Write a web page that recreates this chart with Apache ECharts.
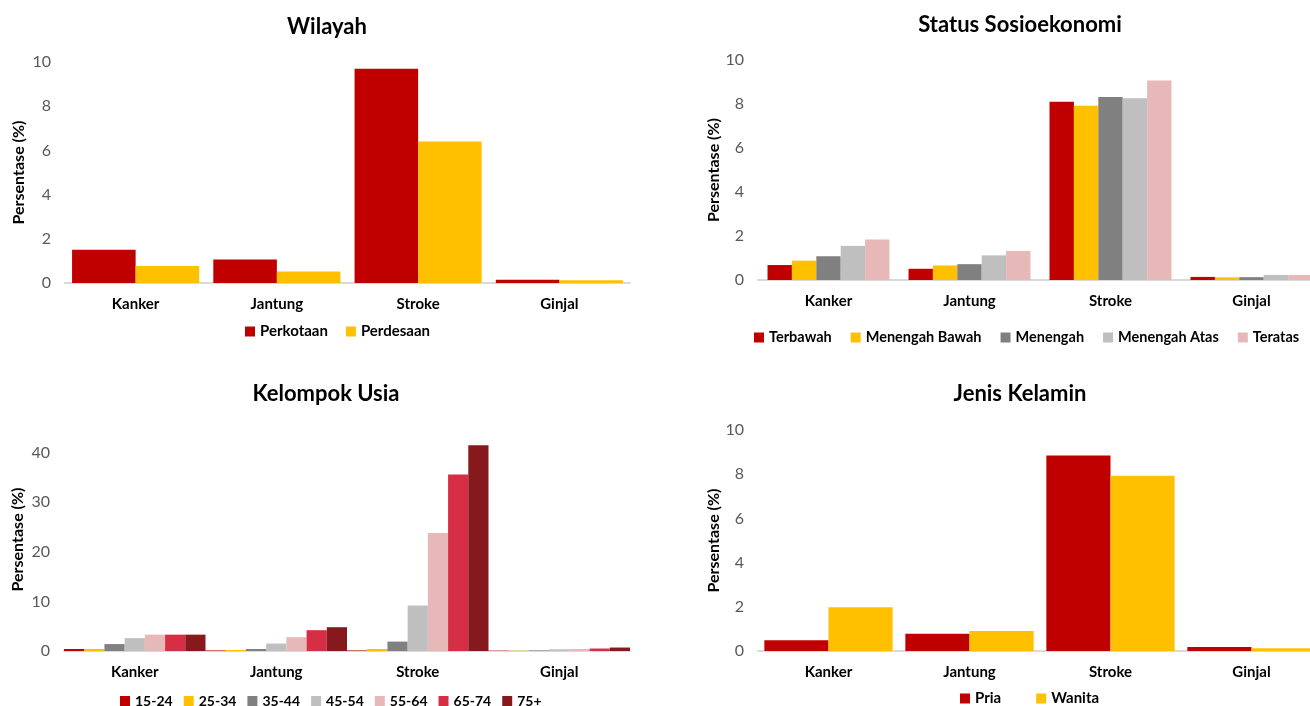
<!DOCTYPE html>
<html>
<head>
<meta charset="utf-8">
<title>Persentase penyakit katastropik</title>
<script src="https://cdn.jsdelivr.net/npm/echarts@6/dist/echarts.min.js"></script>
<style>
  html, body { margin: 0; padding: 0; background: #fff; overflow: hidden; }
  #chart { width: 1340px; height: 706px; }
</style>
</head>
<body>
<div id="chart"></div>
<script>
// Categories shared by all four panels
const categories = ['Kanker', 'Jantung', 'Stroke', 'Ginjal'];

// Wilayah
const perkotaan = [1.5, 1.06, 9.7, 0.15];
const perdesaan = [0.77, 0.52, 6.4, 0.12];

// Status sosioekonomi
const terbawah = [0.68, 0.51, 8.1, 0.14];
const menengahBawah = [0.88, 0.66, 7.92, 0.12];
const menengah = [1.08, 0.72, 8.32, 0.13];
const menengahAtas = [1.55, 1.12, 8.26, 0.23];
const teratas = [1.84, 1.32, 9.07, 0.23];

// Kelompok usia
const usia1524 = [0.4, 0.1, 0.1, 0.05];
const usia2534 = [0.4, 0.2, 0.4, 0.05];
const usia3544 = [1.4, 0.4, 1.9, 0.1];
const usia4554 = [2.6, 1.5, 9.2, 0.35];
const usia5564 = [3.3, 2.8, 23.8, 0.4];
const usia6574 = [3.3, 4.2, 35.6, 0.5];
const usia75 = [3.3, 4.8, 41.5, 0.7];

// Jenis kelamin
const pria = [0.49, 0.78, 8.85, 0.18];
const wanita = [1.98, 0.9, 7.93, 0.12];

// Y-axis ticks
const yTicksSmall = [0, 2, 4, 6, 8, 10];
const yTicksUsia = [0, 10, 20, 30, 40];

const FONT = 'Lato, "Open Sans", sans-serif';
const C = {
  red: '#C00000', yellow: '#FFC000', grey: '#808080', light: '#BFBFBF',
  pink: '#E6B9B8', rose: '#D62F45', maroon: '#86191C'
};

const panels = [
  {
    title: 'Wilayah', titleX: 327, titleY: 16,
    grid: { left: 65, width: 565, top: 62, bottom: 423 },
    yMax: 10, yInterval: 2, ticks: yTicksSmall, nameGap: 38,
    catGap: '10%',
    legend: { left: 245, top: 324, itemGap: 18, fontSize: 15 },
    series: [['Perkotaan', perkotaan, C.red], ['Perdesaan', perdesaan, C.yellow]]
  },
  {
    title: 'Status Sosioekonomi', titleX: 1020, titleY: 14,
    grid: { left: 758, width: 564, top: 60, bottom: 426 },
    yMax: 10, yInterval: 2, ticks: yTicksSmall, nameGap: 36,
    catGap: '13.5%',
    legend: { left: 754, top: 330, itemGap: 19, fontSize: 14.5 },
    series: [['Terbawah', terbawah, C.red], ['Menengah Bawah', menengahBawah, C.yellow],
             ['Menengah', menengah, C.grey], ['Menengah Atas', menengahAtas, C.light],
             ['Teratas', teratas, C.pink]]
  },
  {
    title: 'Kelompok Usia', titleX: 326, titleY: 383,
    grid: { left: 64, width: 566, top: 428, bottom: 55 },
    yMax: 45, yInterval: 10, ticks: yTicksUsia, nameGap: 38,
    catGap: '0%',
    legend: { left: 120, top: 694, itemGap: 11, fontSize: 14 },
    series: [['15-24', usia1524, C.red], ['25-34', usia2534, C.yellow],
             ['35-44', usia3544, C.grey], ['45-54', usia4554, C.light],
             ['55-64', usia5564, C.pink], ['65-74', usia6574, C.rose],
             ['75+', usia75, C.maroon]]
  },
  {
    title: 'Jenis Kelamin', titleX: 1020, titleY: 383,
    grid: { left: 758, width: 564, top: 430, bottom: 55 },
    yMax: 10, yInterval: 2, ticks: yTicksSmall, nameGap: 36,
    catGap: '9%',
    legend: { left: 960, top: 691, itemGap: 35, fontSize: 15 },
    series: [['Pria', pria, C.red], ['Wanita', wanita, C.yellow]]
  }
];

const option = {
  animation: false,
  backgroundColor: '#ffffff',
  textStyle: { fontFamily: FONT },
  title: [], grid: [], xAxis: [], yAxis: [], legend: [], series: []
};

panels.forEach((p, i) => {
  option.title.push({
    text: p.title, left: p.titleX, top: p.titleY, textAlign: 'center', padding: 0,
    textStyle: { fontFamily: FONT, fontWeight: 700, fontSize: 22, color: '#000' }
  });
  option.grid.push(Object.assign({ containLabel: false }, p.grid));
  option.xAxis.push({
    type: 'category', gridIndex: i, data: categories,
    axisLine: { lineStyle: { color: '#D9D9D9', width: 2 } },
    axisTick: { show: false },
    axisLabel: { fontFamily: FONT, fontWeight: 700, fontSize: 15, color: '#000', margin: 14 }
  });
  option.yAxis.push({
    type: 'value', gridIndex: i, min: 0, max: p.yMax, interval: p.yInterval,
    name: 'Persentase (%)', nameLocation: 'middle', nameGap: p.nameGap,
    nameTextStyle: { fontFamily: FONT, fontWeight: 700, fontSize: 16, color: '#000' },
    axisLine: { show: false }, axisTick: { show: false }, splitLine: { show: false },
    axisLabel: {
      fontFamily: FONT, fontSize: 16, color: '#595959', margin: 14,
      formatter: v => (p.ticks.indexOf(v) >= 0 ? String(v) : '')
    }
  });
  option.legend.push({
    left: p.legend.left, top: p.legend.top, width: 600, orient: 'horizontal', padding: 0,
    itemWidth: 10, itemHeight: 10, itemGap: p.legend.itemGap, icon: 'rect',
    data: p.series.map(s => s[0]),
    textStyle: { fontFamily: FONT, fontWeight: 700, fontSize: p.legend.fontSize, color: '#000' }
  });
  p.series.forEach(([name, values, color]) => {
    option.series.push({
      name, type: 'bar', xAxisIndex: i, yAxisIndex: i, data: values,
      barGap: '0%', barCategoryGap: p.catGap,
      itemStyle: { color },
      emphasis: { disabled: true }
    });
  });
});

const chart = echarts.init(document.getElementById('chart'), null, { renderer: 'canvas' });
chart.setOption(option);
</script>
</body>
</html>
